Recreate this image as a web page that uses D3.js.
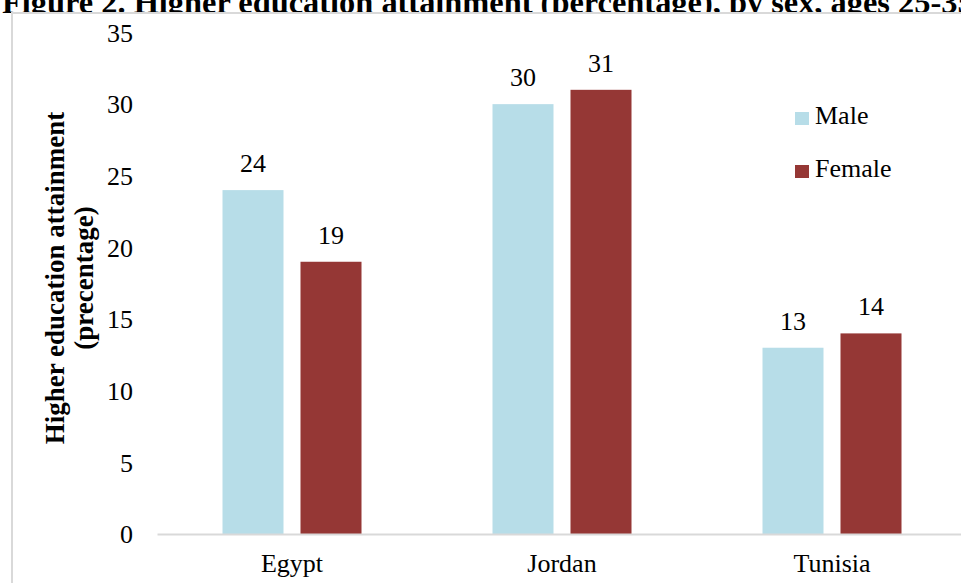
<!DOCTYPE html>
<html>
<head>
<meta charset="utf-8">
<script src="https://cdn.jsdelivr.net/npm/d3@7"></script>
<style>
  html, body { margin: 0; padding: 0; background: #ffffff; overflow: hidden; }
  svg { display: block; font-family: "Liberation Serif", "Times New Roman", serif; }
</style>
</head>
<body>
<svg id="chart" width="961" height="583"></svg>
<script>
// Higher education attainment (%), ages 25-35, by sex
const countries = ["Egypt", "Jordan", "Tunisia"];
const seriesNames = ["Male", "Female"];
const maleValues = [24, 30, 13];
const femaleValues = [19, 31, 14];
const yTicks = [0, 5, 10, 15, 20, 25, 30, 35];
const titleText = "Figure 2. Higher education attainment (percentage), by sex, ages 25-35";
const yTitleLines = ["Higher education attainment", "(precentage)"];
const colors = { Male: "#b7dde8", Female: "#953735" };

const rows = countries.map((c, i) => ({ country: c, Male: maleValues[i], Female: femaleValues[i] }));

const serif = "'Liberation Serif', 'Times New Roman', serif";
const svg = d3.select("#chart");

// Title sits behind the chart frame, which hides its lower part
svg.append("text")
  .attr("x", 2)
  .attr("y", 13)
  .attr("font-family", serif)
  .attr("font-size", 32.4)
  .attr("font-weight", "bold")
  .attr("fill", "#000")
  .text(titleText);

// Chart frame
svg.append("rect")
  .attr("x", 12).attr("y", 13)
  .attr("width", 1000).attr("height", 700)
  .attr("fill", "#ffffff")
  .attr("stroke", "#d9d9d9")
  .attr("stroke-width", 2);

const plot = { left: 157, right: 967, top: 32.5, bottom: 534 };

const x0 = d3.scaleBand().domain(countries).range([plot.left, plot.right]).padding(0);
const groupWidth = 139;
const x1 = d3.scaleBand().domain(seriesNames).range([0, groupWidth]).paddingInner(17 / 78).paddingOuter(0);
const y = d3.scaleLinear().domain([0, 35]).range([plot.bottom, plot.top]);

// Y tick labels (no axis line)
const yAxis = d3.axisLeft(y).tickValues(yTicks).tickSize(0).tickPadding(0);
const gy = svg.append("g").attr("transform", "translate(133,0)").call(yAxis);
gy.attr("font-family", serif);
gy.select(".domain").remove();
gy.selectAll("text")
  .attr("font-family", serif)
  .attr("font-size", 26)
  .attr("fill", "#000")
  .attr("dy", "0.34em");

// Bars
const groups = svg.append("g").selectAll("g")
  .data(rows).join("g")
  .attr("transform", d => `translate(${x0(d.country) + (x0.bandwidth() - groupWidth) / 2},0)`);

groups.selectAll("rect")
  .data(d => seriesNames.map(s => ({ key: s, value: d[s] })))
  .join("rect")
  .attr("x", d => x1(d.key))
  .attr("y", d => y(d.value))
  .attr("width", x1.bandwidth())
  .attr("height", d => y(0) - y(d.value))
  .attr("fill", d => colors[d.key]);

// Value labels
groups.selectAll("text.value")
  .data(d => seriesNames.map(s => ({ key: s, value: d[s] })))
  .join("text")
  .attr("class", "value")
  .attr("x", d => x1(d.key) + x1.bandwidth() / 2)
  .attr("y", d => y(d.value) - 18)
  .attr("text-anchor", "middle")
  .attr("font-family", serif)
  .attr("font-size", 26)
  .attr("fill", "#000")
  .text(d => d.value);

// X axis baseline and category labels
const xAxis = d3.axisBottom(x0).tickSize(0).tickPadding(0);
const gx = svg.append("g").attr("transform", `translate(0,${plot.bottom})`).call(xAxis);
gx.attr("font-family", serif);
gx.select(".domain")
  .attr("stroke", "#d9d9d9")
  .attr("stroke-width", 2);
gx.selectAll("text")
  .attr("font-family", serif)
  .attr("font-size", 26)
  .attr("fill", "#000")
  .attr("dy", null)
  .attr("y", 38);

// Y axis title
const yTitle = svg.append("text")
  .attr("transform", "translate(0,278) rotate(-90)")
  .attr("text-anchor", "middle")
  .attr("font-family", serif)
  .attr("font-size", 27)
  .attr("font-weight", "bold")
  .attr("fill", "#000");
yTitle.selectAll("tspan")
  .data(yTitleLines).join("tspan")
  .attr("x", 0)
  .attr("y", (d, i) => 64 + i * 29)
  .text(d => d);

// Legend
const legend = svg.append("g").selectAll("g")
  .data(seriesNames).join("g")
  .attr("transform", (d, i) => `translate(795,${112 + i * 53})`);
legend.append("rect")
  .attr("width", 14).attr("height", 13)
  .attr("fill", d => colors[d]);
legend.append("text")
  .attr("x", 20).attr("y", 12)
  .attr("font-family", serif)
  .attr("font-size", 26)
  .attr("fill", "#000")
  .text(d => d);
</script>
</body>
</html>
